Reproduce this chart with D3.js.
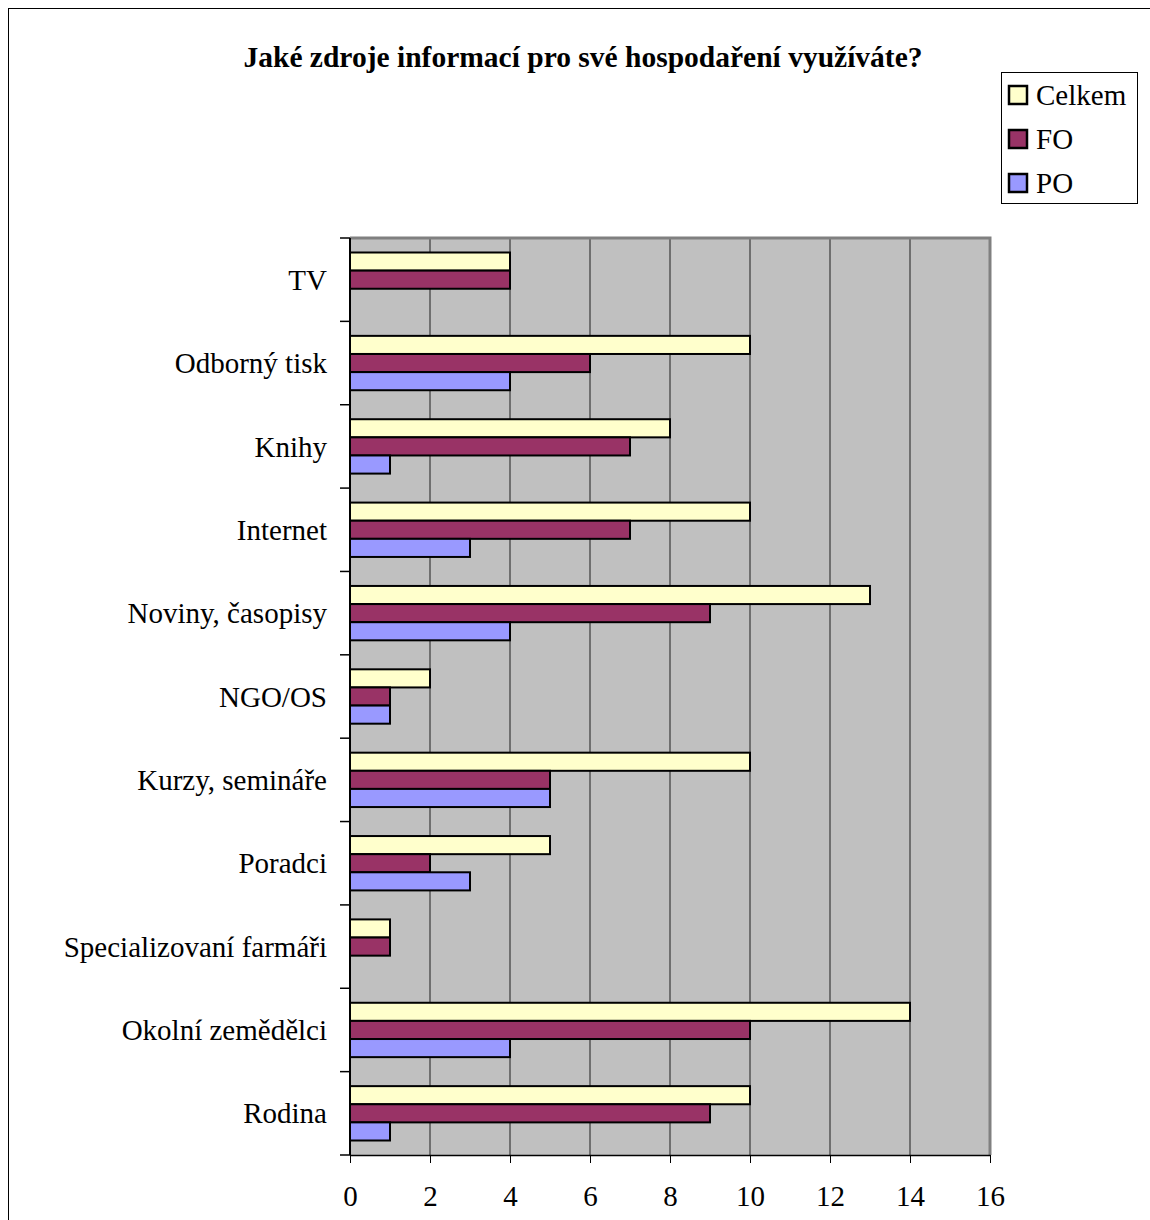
<!DOCTYPE html>
<html>
<head>
<meta charset="utf-8">
<script src="https://cdn.jsdelivr.net/npm/d3@7"></script>
<style>
  body { margin: 0; background: #fff; }
  text { font-family: "Liberation Serif", "Times New Roman", serif; fill: #000; }
</style>
</head>
<body>
<div id="chart"></div>
<script>
// data
var categories = ["TV", "Odborný tisk", "Knihy", "Internet", "Noviny, časopisy", "NGO/OS",
  "Kurzy, semináře", "Poradci ", "Specializovaní farmáři", "Okolní zemědělci", "Rodina"];
var seriesNames = ["Celkem", "FO", "PO"];
var celkem = [4, 10, 8, 10, 13, 2, 10, 5, 1, 14, 10];
var fo = [4, 6, 7, 7, 9, 1, 5, 2, 1, 10, 9];
var po = [0, 4, 1, 3, 4, 1, 5, 3, 0, 4, 1];
var xTicks = [0, 2, 4, 6, 8, 10, 12, 14, 16];
var colors = ["#ffffcc", "#993366", "#9999ff"];

var W = 1150, H = 1220;
var margin = {top: 238, left: 350, right: 160, bottom: 65};
var width = W - margin.left - margin.right,   // 640
    height = H - margin.top - margin.bottom;  // 917

var svg = d3.select("#chart").append("svg")
  .attr("width", W).attr("height", H);

// outer frame
svg.append("rect")
  .attr("x", 8.5).attr("y", 8.5)
  .attr("width", W + 20).attr("height", H + 20)
  .attr("fill", "none").attr("stroke", "#000").attr("stroke-width", 1);

svg.append("text")
  .attr("x", 583).attr("y", 67)
  .attr("text-anchor", "middle")
  .style("font-size", "29.5px").style("font-weight", "bold")
  .text("Jaké zdroje informací pro své hospodaření využíváte?");

var g = svg.append("g").attr("transform", "translate(" + margin.left + "," + margin.top + ")");

var x = d3.scaleLinear().domain([0, 16]).range([0, width]);
var y = d3.scaleBand().domain(categories).range([0, height]);
var ySub = d3.scaleBand().domain(seriesNames).range([0, y.bandwidth()]).paddingOuter(0.8);

// plot background
g.append("rect").attr("width", width).attr("height", height).attr("fill", "#c0c0c0");

// gridlines
g.append("g").selectAll("line")
  .data(xTicks.slice(1, -1))
  .enter().append("line")
    .attr("x1", function(d) { return x(d); }).attr("x2", function(d) { return x(d); })
    .attr("y1", 0).attr("y2", height)
    .attr("stroke", "#555").attr("stroke-width", 1.5);

// plot border (top / right)
g.append("path")
  .attr("d", "M0,0H" + width + "V" + height)
  .attr("fill", "none").attr("stroke", "#808080").attr("stroke-width", 3);

// bars
var rows = categories.map(function(c, i) {
  return {cat: c, vals: [celkem[i], fo[i], po[i]]};
});
var grp = g.append("g").selectAll("g")
  .data(rows).enter().append("g")
    .attr("transform", function(d) { return "translate(0," + y(d.cat) + ")"; });
grp.selectAll("rect")
  .data(function(d) { return d.vals.map(function(v, j) { return {s: seriesNames[j], v: v, j: j}; }).filter(function(e) { return e.v > 0; }); })
  .enter().append("rect")
    .attr("x", x(0))
    .attr("y", function(d) { return ySub(d.s); })
    .attr("width", function(d) { return x(d.v); })
    .attr("height", ySub.bandwidth())
    .attr("fill", function(d) { return colors[d.j]; })
    .attr("stroke", "#000").attr("stroke-width", 2);

// x axis
var xAxis = g.append("g")
  .attr("transform", "translate(0," + height + ")")
  .call(d3.axisBottom(x).tickValues(xTicks).tickSize(8).tickPadding(22).tickSizeOuter(0));
xAxis.select(".domain").attr("stroke", "#000").attr("stroke-width", 1.5);
xAxis.selectAll("text").style("font-size", "29px").style("font-family", "Liberation Serif");

// y axis: ticks between categories
var yAxis = g.append("g");
yAxis.append("line").attr("x1", 0).attr("x2", 0).attr("y1", 0).attr("y2", height)
  .attr("stroke", "#000").attr("stroke-width", 2);
yAxis.selectAll(".tk")
  .data(categories.concat(["end"]))
  .enter().append("line")
    .attr("x1", -10).attr("x2", 0)
    .attr("y1", function(d, i) { return i * y.step(); })
    .attr("y2", function(d, i) { return i * y.step(); })
    .attr("stroke", "#000").attr("stroke-width", 1.5);
yAxis.selectAll(".lbl")
  .data(categories)
  .enter().append("text")
    .attr("x", -23)
    .attr("y", function(d) { return y(d) + y.bandwidth() / 2; })
    .attr("dy", "0.35em")
    .attr("text-anchor", "end")
    .style("font-size", "29px")
    .text(function(d) { return d; });

// legend
var leg = svg.append("g").attr("transform", "translate(1001,72)");
leg.append("rect").attr("x", 0.5).attr("y", 0.5).attr("width", 136).attr("height", 131)
  .attr("fill", "#fff").attr("stroke", "#000").attr("stroke-width", 1);
seriesNames.forEach(function(s, i) {
  var cy = 23 + i * 44;
  leg.append("rect").attr("x", 8).attr("y", cy - 9).attr("width", 18).attr("height", 18)
    .attr("fill", colors[i]).attr("stroke", "#000").attr("stroke-width", 2.5);
  leg.append("text").attr("x", 35).attr("y", cy).attr("dy", "0.35em")
    .style("font-size", "29px").text(s);
});
</script>
</body>
</html>
